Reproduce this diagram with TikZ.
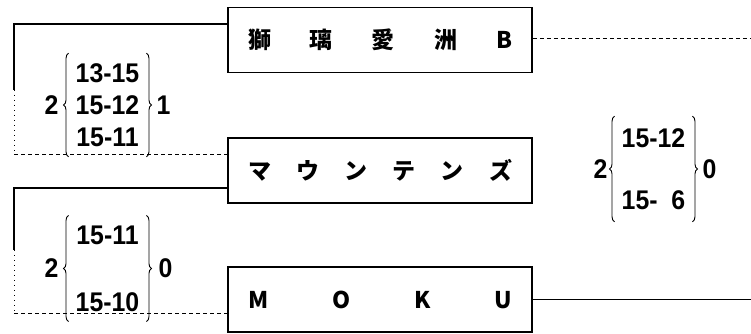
\documentclass[tikz,border=0pt]{standalone}
\usepackage{fontspec}
\setmainfont{Liberation Sans}
\newfontfamily\numfont[FakeStretch=0.92]{Liberation Sans}
\newfontfamily\jpfont{Noto Sans CJK JP}
\usetikzlibrary{positioning,decorations.pathreplacing}
\tikzset{
  team/.style={draw,line width=1.6pt,minimum width=304pt,minimum height=65pt,inner sep=0pt,
    font=\jpfont\bfseries\fontsize{23}{26}\selectfont},
  score/.style={inner xsep=7pt,inner ysep=10pt,align=center,font=\numfont\bfseries\fontsize{27}{32}\selectfont},
  result/.style={inner sep=0pt,font=\numfont\bfseries\fontsize{27}{32}\selectfont},
  curly/.style={decorate,decoration={brace,amplitude=5pt},line width=0.9pt},
  wire/.style={line width=1.3pt},
  dashwire/.style={line width=0.9pt,dash pattern=on 4pt off 3pt},
  dotwire/.style={line width=1pt,dash pattern=on 1pt off 4pt},
}
\newcommand{\spread}[1]{\makebox[264pt]{#1}}

\begin{document}
\begin{tikzpicture}[x=1pt,y=-1pt]
  \useasboundingbox (0,0) rectangle (751,334);
  \node[team] (shishi) at (380,40) {\spread{獅\hfill 璃\hfill 愛\hfill 洲\hfill B}};
  \node[team] (mount) at (380,170.5) {\spread{マ\hfill ウ\hfill ン\hfill テ\hfill ン\hfill ズ}};
  \node[team] (moku) at (380,299.5) {\spread{M\hfill O\hfill K\hfill U}};

  \coordinate (a1) at (14,90);
  \coordinate (a2) at (14,154);
  \coordinate (b1) at (14,250);
  \coordinate (b2) at (14,313);
  \coordinate (r1) at (751,38);
  \coordinate (r2) at (751,299.5);

  \draw[wire] ([yshift=16pt]shishi.west) -| (a1);
  \draw[dotwire] (a1) -- (a2);
  \draw[dashwire] (a2) -- ([yshift=16.5pt]mount.west);
  \draw[wire] ([yshift=-17.5pt]mount.west) -| (b1);
  \draw[dotwire] (b1) -- (b2);
  \draw[dashwire] (b2) -- ([yshift=-13.5pt]moku.west);
  \draw[dashwire] ([yshift=2pt]shishi.east) -- (r1);
  \draw[wire] (moku.east) -- (r2);

  \node[score] (g1) at (107.5,105) {13-15\\15-12\\15-11};
  \node[result,left=10pt of g1.west] (g1l) {2};
  \node[result,right=10pt of g1.east] (g1r) {1};
  \draw[curly] (g1.south west) -- (g1.north west);
  \draw[curly] (g1.north east) -- (g1.south east);

  \node[score] (g2) at (107.5,268.5) {15-11\\[35pt]15-10};
  \node[result,left=10pt of g2.west] (g2l) {2};
  \node[result,right=12pt of g2.east] (g2r) {0};
  \draw[curly] (g2.south west) -- (g2.north west);
  \draw[curly] (g2.north east) -- (g2.south east);

  \node[score,inner ysep=12pt] (g3) at (653.5,169) {15-12\\[30pt]15-\hphantom{1}6};
  \node[result,left=7pt of g3.west] (g3l) {2};
  \node[result,right=10pt of g3.east] (g3r) {0};
  \draw[curly] (g3.south west) -- (g3.north west);
  \draw[curly] (g3.north east) -- (g3.south east);
\end{tikzpicture}
\end{document}
